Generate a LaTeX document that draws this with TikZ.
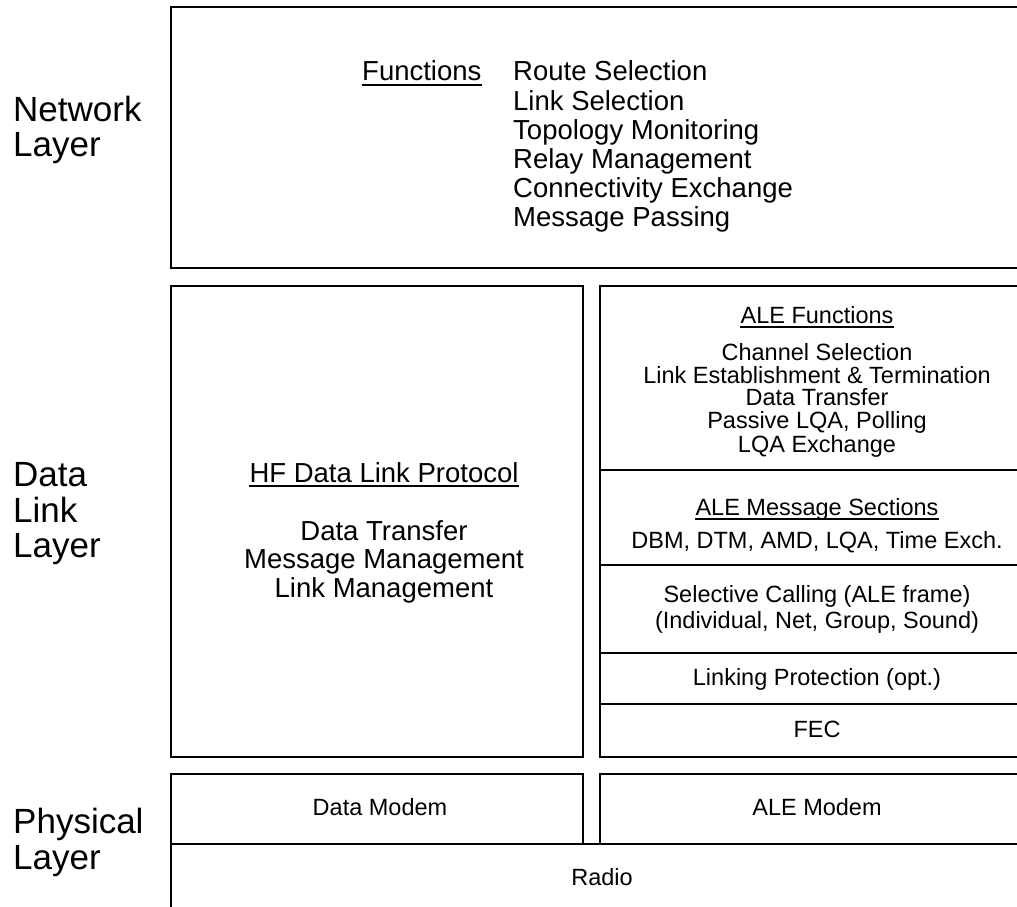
\documentclass[tikz,border=0pt]{standalone}
\usepackage{fontspec}
\setmainfont{Liberation Sans}
\begin{document}
\begin{tikzpicture}[x=1pt,y=-1pt,
  box/.style={draw, line width=2pt, rectangle, inner sep=0pt, outer sep=0pt, anchor=north west},
  big/.style={font=\fontsize{35}{35}\selectfont, inner sep=0pt, anchor=base west},
  mid/.style={font=\fontsize{27.5}{29}\selectfont, inner sep=0pt, anchor=base},
  midl/.style={mid, anchor=base west},
  sml/.style={font=\fontsize{23.5}{24}\selectfont, inner sep=0pt, anchor=base},
  ul/.style={line width=1.4pt}]
\useasboundingbox (0,0) rectangle (1017,907);
\clip (0,0) rectangle (1017,907);
% boxes
\node[box, minimum width=862, minimum height=261] (net) at (171,7) {};
\node[box, minimum width=412, minimum height=471] (hf) at (171,286) {};
\node[box, minimum width=433, minimum height=184] (alef) at (600,286) {};
\node[box, minimum width=433, minimum height=95] (alem) at (600,470) {};
\node[box, minimum width=433, minimum height=88] (sel) at (600,565) {};
\node[box, minimum width=433, minimum height=51] (lp) at (600,653) {};
\node[box, minimum width=433, minimum height=53] (fec) at (600,704) {};
\node[box, minimum width=412, minimum height=70] (dm) at (171,774) {};
\node[box, minimum width=433, minimum height=70] (am) at (600,774) {};
\node[box, minimum width=862, minimum height=90] (radio) at (171,844) {};
% layer labels
\node[big] (ln1) at (13,121) {Network};
\node[big] (ln2) at (13,156) {Layer};
\node[big] (ld1) at (13,486) {Data};
\node[big] (ld2) at (13,522) {Link};
\node[big] (ld3) at (13,557) {Layer};
\node[big] (lp1) at (13,833) {Physical};
\node[big] (lp2) at (13,869) {Layer};
% network functions
\node[midl] (fn) at (362,81) {Functions};
\draw[ul] ([yshift=-4pt]fn.base west) -- ([yshift=-4pt]fn.base east);
\node[midl] (f1) at (513,81) {Route Selection};
\node[midl] (f2) at (513,110) {Link Selection};
\node[midl] (f3) at (513,139) {Topology Monitoring};
\node[midl] (f4) at (513,168) {Relay Management};
\node[midl] (f5) at (513,197) {Connectivity Exchange};
\node[midl] (f6) at (513,226) {Message Passing};
% HF data link protocol
\node[mid] (hft) at (384,482) {HF Data Link Protocol};
\draw[ul] ([yshift=-4pt]hft.base west) -- ([yshift=-4pt]hft.base east);
\node[mid] (h1) at (384,540) {Data Transfer};
\node[mid] (h2) at (384,568.5) {Message Management};
\node[mid] (h3) at (384,597) {Link Management};
% ALE functions
\node[sml] (aft) at (817,323) {ALE Functions};
\draw[ul] ([yshift=-4pt]aft.base west) -- ([yshift=-4pt]aft.base east);
\node[sml] (a1) at (817,360) {Channel Selection};
\node[sml] (a2) at (817,383) {Link Establishment \& Termination};
\node[sml] (a3) at (817,405.5) {Data Transfer};
\node[sml] (a4) at (817,428.5) {Passive LQA, Polling};
\node[sml] (a5) at (817,452) {LQA Exchange};
\node[sml] (amt) at (817,515) {ALE Message Sections};
\draw[ul] ([yshift=-4pt]amt.base west) -- ([yshift=-4pt]amt.base east);
\node[sml] (m1) at (817,548) {DBM, DTM, AMD, LQA, Time Exch.};
\node[sml] (s1) at (817,602) {Selective Calling (ALE frame)};
\node[sml] (s2) at (817,628) {(Individual, Net, Group, Sound)};
\node[sml] (lpt) at (817,685) {Linking Protection (opt.)};
\node[sml] (fect) at (817,737) {FEC};
% physical
\node[sml] (dmt) at (380,815) {Data Modem};
\node[sml] (amtx) at (817,815) {ALE Modem};
\node[sml] (rt) at (602,885) {Radio};
\end{tikzpicture}
\end{document}
